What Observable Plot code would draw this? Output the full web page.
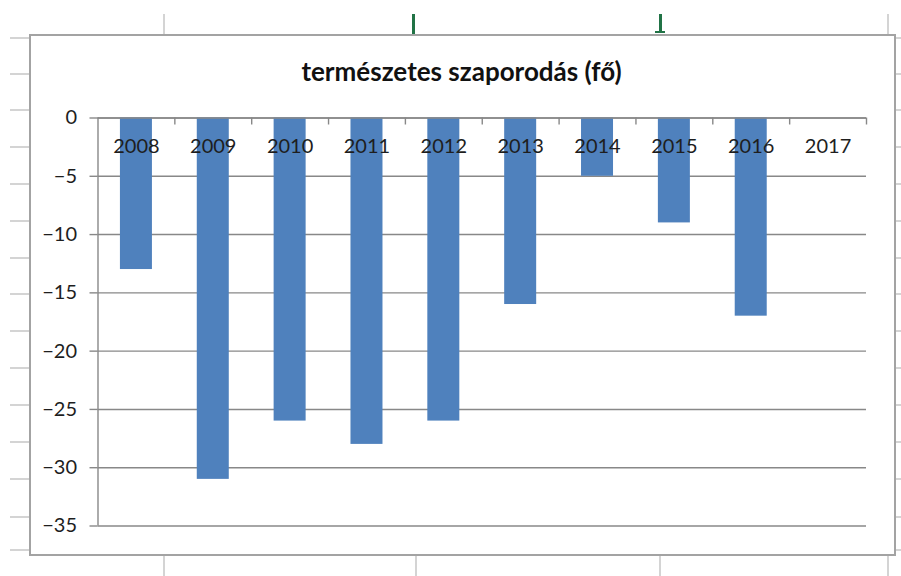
<!DOCTYPE html>
<html>
<head>
<meta charset="utf-8">
<script src="https://cdn.jsdelivr.net/npm/d3@7"></script>
<script src="https://cdn.jsdelivr.net/npm/@observablehq/plot@0.6"></script>
<style>
  html, body { margin: 0; padding: 0; background: #fff; }
  #page { position: relative; width: 901px; height: 576px; overflow: hidden; background: #fff; font-family: Lato, "Liberation Sans", sans-serif; }
  .deco { position: absolute; background: #d4d4d4; }
  .green { position: absolute; background: #217346; }
  #box { position: absolute; left: 29px; top: 34px; width: 863px; height: 518px; border: 2px solid #a3a3a3; background: #fff; }
  #chart { position: absolute; left: 0; top: 0; }
  #title { position: absolute; left: 29px; width: 865px; top: 56px; text-align: center; font-weight: bold; font-size: 26px; color: #111; line-height: 30px; }
</style>
</head>
<body>
<div id="page">
  <div id="deco"></div>
  <div id="box"></div>
  <div id="chart"></div>
  <div id="title">természetes szaporodás (fő)</div>
</div>
<script>
const years = ["2008", "2009", "2010", "2011", "2012", "2013", "2014", "2015", "2016", "2017"];
const values = [-13, -31, -26, -28, -26, -16, -5, -9, -17, 0];
const yTicks = [0, -5, -10, -15, -20, -25, -30, -35];

const data = years.map((year, i) => ({year, value: values[i]}));

// spreadsheet background decoration
const deco = document.getElementById("deco");
function addDiv(cls, l, t, w, h) {
  const d = document.createElement("div");
  d.className = cls;
  Object.assign(d.style, {left: l + "px", top: t + "px", width: w + "px", height: h + "px"});
  deco.appendChild(d);
}
const rowLines = [37, 73, 109, 146, 183, 220, 257, 293, 330, 367, 404, 441, 478, 516, 549];
rowLines.forEach(y => { addDiv("deco", 10, y, 19, 1.5); addDiv("deco", 894, y, 7, 1.5); });
[163, 887].forEach(x => addDiv("deco", x, 14, 1.5, 20));
[163, 415, 659, 887].forEach(x => addDiv("deco", x, 554, 1.5, 22));
addDiv("green", 412, 14, 3, 20);
addDiv("green", 659, 14, 3, 19);
addDiv("green", 655, 31, 10, 2);

const W = 901, H = 576, mL = 97.5, mR = 35, mT = 117.5, mB = 50.5;
const bw = (W - mL - mR) / years.length;
const barInset = (bw - 32) / 2;
const frameH = H - mT - mB;
const grid = "#888888";

const chart = Plot.plot({
  width: W,
  height: H,
  marginLeft: mL,
  marginRight: mR,
  marginTop: mT,
  marginBottom: mB,
  style: {background: "transparent", fontFamily: "Lato, 'Liberation Sans', sans-serif", fontSize: "20px", color: "#1e1e1e"},
  x: {domain: years, padding: 0, round: false, axis: null},
  y: {domain: [-35, 0], axis: null},
  marks: [
    Plot.gridY(yTicks, {stroke: grid, strokeOpacity: 1, strokeWidth: 1.4}),
    Plot.axisY({ticks: yTicks, label: null, tickSize: 8, tickPadding: 13, stroke: grid, strokeWidth: 1.4, fontSize: 20, fill: "#1e1e1e"}),
    Plot.barY(data, {x: "year", y: "value", fill: "#4f81bd", insetLeft: barInset, insetRight: barInset}),
    Plot.ruleY([0], {stroke: grid, strokeWidth: 1.4}),
    Plot.tickX(years.slice(0, 1), {x: d => d, dx: -bw / 2, stroke: grid, strokeWidth: 1.4}),
    Plot.tickX(years.slice(1), {x: d => d, dx: -bw / 2, insetBottom: frameH - 7, stroke: grid, strokeWidth: 1.4}),
    Plot.tickX(years.slice(-1), {x: d => d, dx: bw / 2, insetBottom: frameH - 7, stroke: grid, strokeWidth: 1.4}),
    Plot.text(years, {x: d => d, text: d => d, frameAnchor: "top", dy: 29, lineAnchor: "middle", fontSize: 20, fill: "#1e1e1e"})
  ]
});
document.getElementById("chart").appendChild(chart);
</script>
</body>
</html>
